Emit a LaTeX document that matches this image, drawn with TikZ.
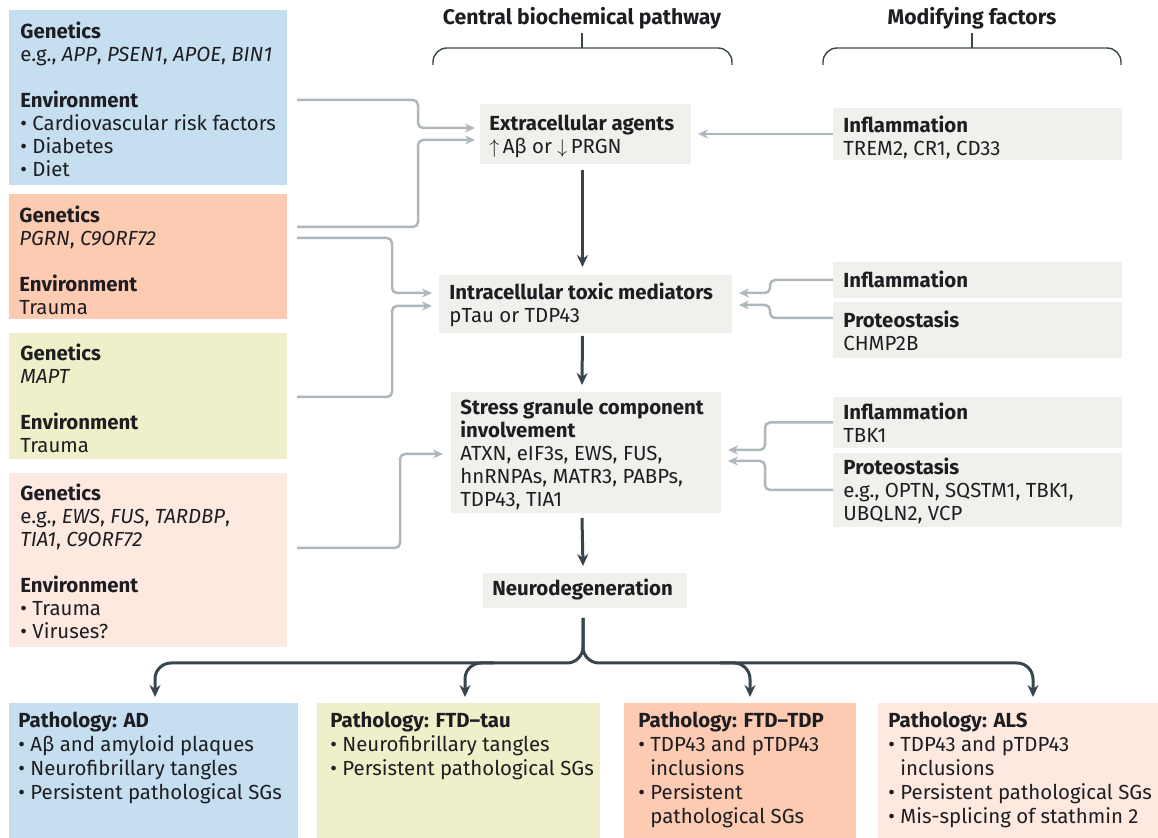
\documentclass[tikz,border=0pt]{standalone}
\usepackage{fontspec}
\setmainfont{Fira Sans}
\usetikzlibrary{arrows.meta,calc,fit}

\definecolor{ink}{HTML}{1E1E22}
\definecolor{dark}{HTML}{37464C}
\definecolor{wire}{HTML}{AEB7BC}
\definecolor{adblue}{HTML}{C5DFF1}
\definecolor{tdpsalmon}{HTML}{FCCBB2}
\definecolor{tauyellow}{HTML}{EFF0C9}
\definecolor{alspink}{HTML}{FDE9E0}
\definecolor{stepgray}{HTML}{F0F0EC}

\tikzset{
  panel/.style={inner sep=0pt, outer sep=0pt},
  txt/.style={anchor=north west, inner sep=0pt, align=left, text=ink,
    font=\fontsize{10.2}{11.5}\selectfont},
  pathtxt/.style={txt, font=\fontsize{10.2}{12}\selectfont},
  head/.style={inner sep=0pt, text=ink, font=\fontsize{10.6}{12}\selectfont\bfseries},
  feed/.style={draw=wire, line width=1.25pt, rounded corners=2.5pt,
    -{Stealth[length=5pt,width=4.5pt]}},
  flow/.style={draw=dark, line width=1.5pt, -{Stealth[length=6pt,width=5.5pt]}},
  brace/.style={draw=dark, line width=0.7pt, rounded corners=7pt}
}

\newcommand{\bul}{\textbullet\ }
\newcommand{\hang}{\phantom{\textbullet\ }}

\begin{document}
\begin{tikzpicture}[x=0.5pt,y=-0.5pt]
  \useasboundingbox (0,0) rectangle (1158,838);

  % headers and braces
  \node[head] (cbp) at (582,18) {Central biochemical pathway};
  \node[head] (modf) at (972,18) {Modifying factors};
  \coordinate (cbrace) at (582,48);
  \coordinate (mbrace) at (972,48);
  \draw[brace] (433,65) -- (433,48) -- (732,48) -- (732,65);
  \draw[brace] (823,65) -- (823,48) -- (1121,48) -- (1121,65);
  \draw[dark, line width=0.7pt] ([yshift=-2pt]cbp.south) -- (cbrace);
  \draw[dark, line width=0.7pt] ([yshift=-2pt]modf.south) -- (mbrace);

  % causes (left column)
  \node[panel, fill=adblue, fit={(9,10) (287,185)}] (adcause) {};
  \node[panel, fill=tdpsalmon, fit={(9,194) (287,319)}] (tdpcause) {};
  \node[panel, fill=tauyellow, fit={(9,333) (287,459)}] (taucause) {};
  \node[panel, fill=alspink, fit={(9,473) (287,647)}] (alscause) {};
  \node[txt] at (20,22) {\textbf{Genetics}\\
    e.g., \textit{APP}, \textit{PSEN1}, \textit{APOE}, \textit{BIN1}\\[11.5pt]
    \textbf{Environment}\\
    \bul Cardiovascular risk factors\\
    \bul Diabetes\\
    \bul Diet};
  \node[txt] at (19,206) {\textbf{Genetics}\\
    \textit{PGRN}, \textit{C9ORF72}\\[11.5pt]
    \textbf{Environment}\\
    Trauma};
  \node[txt] at (20,344) {\textbf{Genetics}\\
    \textit{MAPT}\\[11.5pt]
    \textbf{Environment}\\
    Trauma};
  \node[txt] at (20,484) {\textbf{Genetics}\\
    e.g., \textit{EWS}, \textit{FUS}, \textit{TARDBP},\\
    \textit{TIA1}, \textit{C9ORF72}\\[11.5pt]
    \textbf{Environment}\\
    \bul Trauma\\
    \bul Viruses?};

  % central pathway
  \node[panel, fill=stepgray, fit={(480,104) (691,164)}] (extra) {};
  \node[panel, fill=stepgray, fit={(439,275) (732,333)}] (intra) {};
  \node[panel, fill=stepgray, fit={(451,392) (721,513)}] (stress) {};
  \node[panel, fill=stepgray, fit={(483,573) (687,608)}] (neuro) {};
  \node[txt] at (489,115) {\textbf{Extracellular agents}\\
    $\uparrow$\,Aβ or $\downarrow$\,PRGN};
  \node[txt] at (449,283) {\textbf{Intracellular toxic mediators}\\
    pTau or TDP43};
  \node[txt] at (460,399) {\textbf{Stress granule component}\\
    \textbf{involvement}\\
    ATXN, eIF3s, EWS, FUS,\\
    hnRNPAs, MATR3, PABPs,\\
    TDP43, TIA1};
  \node[txt] at (492,579) {\textbf{Neurodegeneration}};

  % modifying factors (right column)
  \node[panel, fill=stepgray, fit={(833,108) (1122,160)}] (inflamA) {};
  \node[panel, fill=stepgray, fit={(833,262) (1122,298)}] (inflamB) {};
  \node[panel, fill=stepgray, fit={(833,302) (1122,358)}] (proteoA) {};
  \node[panel, fill=stepgray, fit={(833,397) (1122,448)}] (inflamC) {};
  \node[panel, fill=stepgray, fit={(833,453) (1122,527)}] (proteoB) {};
  \node[txt] at (843,116) {\textbf{Inflammation}\\ TREM2, CR1, CD33};
  \node[txt] at (843,271) {\textbf{Inflammation}};
  \node[txt] at (843,311) {\textbf{Proteostasis}\\ CHMP2B};
  \node[txt] at (843,403) {\textbf{Inflammation}\\ TBK1};
  \node[txt] at (843,458) {\textbf{Proteostasis}\\
    e.g., OPTN, SQSTM1, TBK1,\\
    UBQLN2, VCP};

  % pathology (bottom row)
  \node[panel, fill=adblue, fit={(9,703) (298,838)}] (adpath) {};
  \node[panel, fill=tauyellow, fit={(317,703) (600,838)}] (taupath) {};
  \node[panel, fill=tdpsalmon, fit={(624,703) (856,838)}] (tdppath) {};
  \node[panel, fill=alspink, fit={(878,703) (1158,838)}] (alspath) {};
  \node[pathtxt] at (18,712) {\textbf{Pathology: AD}\\
    \bul Aβ and amyloid plaques\\
    \bul Neurofibrillary tangles\\
    \bul Persistent pathological SGs};
  \node[pathtxt] at (330,712) {\textbf{Pathology: FTD--tau}\\
    \bul Neurofibrillary tangles\\
    \bul Persistent pathological SGs};
  \node[pathtxt] at (638,712) {\textbf{Pathology: FTD--TDP}\\
    \bul TDP43 and pTDP43\\
    \hang inclusions\\
    \bul Persistent\\
    \hang pathological SGs};
  \node[pathtxt] at (888,712) {\textbf{Pathology: ALS}\\
    \bul TDP43 and pTDP43\\
    \hang inclusions\\
    \bul Persistent pathological SGs\\
    \bul Mis-splicing of stathmin 2};

  % inputs from the left
  \draw[feed] ($(adcause.north east)+(10,90)$) -| (418,128) -- ($(extra.west)+(-5,-6)$);
  \draw[feed] ($(tdpcause.north east)+(10,33)$) -| (418,140) -- ($(extra.west)+(-5,6)$);
  \draw[feed] ($(tdpcause.north east)+(10,44)$) -| (392,293) -- ($(intra.north west)+(-7,18)$);
  \draw[feed] ($(taucause.north east)+(10,64)$) -| (392,306) -- ($(intra.north west)+(-7,31)$);
  \draw[feed] ($(alscause.north east)+(10,75)$) -| (400,454) -- ($(stress.north west)+(-8,62)$);

  % inputs from the right
  \draw[feed] (inflamA.west) -- ($(extra.east)+(7,0)$);
  \draw[feed] (inflamB.west) -| (770,293) -- ($(intra.north east)+(7,18)$);
  \draw[feed] ($(proteoA.north west)+(0,16)$) -| (770,305) -- ($(intra.north east)+(7,30)$);
  \draw[feed] (inflamC.west) -| (765,450) -- ($(stress.north east)+(7,58)$);
  \draw[feed] (proteoB.west) -| (765,461) -- ($(stress.north east)+(7,69)$);

  % central flow
  \draw[flow] ($(extra.south)+(-3,6)$) -- ($(intra.north)+(-3,-8)$);
  \draw[flow] ($(intra.south)+(-3,3)$) -- ($(stress.north)+(-4,-7)$);
  \draw[flow] ($(stress.south)+(-4,5)$) -- ($(neuro.north)+(-2,-7)$);

  % split into pathologies
  \coordinate (split) at ($(neuro.south)+(-2,10)$);
  \coordinate (taufork) at (494,663);
  \coordinate (tdpfork) at (720,663);
  \draw[flow, rounded corners=8pt] (split) -- ++(0,45) -| ($(adpath.north)+(1.5,-6)$);
  \draw[flow, rounded corners=8pt] (split) -- ++(0,45) -| ($(alspath.north)+(15,-6)$);
  \draw[flow, rounded corners=8pt] (taufork) -| ($(taupath.north)+(6.5,-6)$);
  \draw[flow, rounded corners=8pt] (tdpfork) -| ($(tdppath.north)+(10,-6)$);
\end{tikzpicture}
\end{document}
